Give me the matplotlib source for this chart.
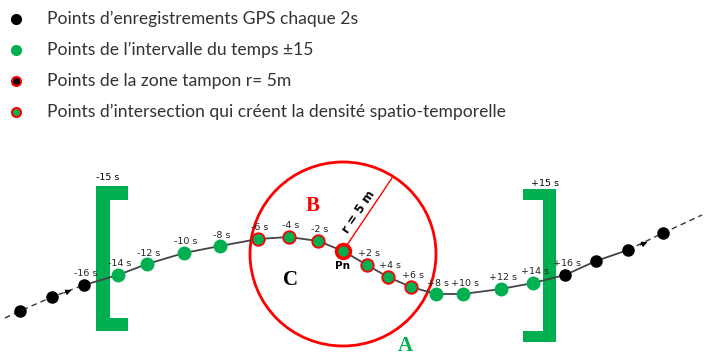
import matplotlib.pyplot as plt
from matplotlib.patches import Ellipse, Polygon

# track points (diagram coordinates, x to the right, y downwards)
pt_x = [20, 52, 84, 118, 147, 184, 220, 258, 289, 318, 343, 367, 388, 411, 436, 463, 501, 533, 565, 596, 628, 663]
pt_y = [311, 297, 285, 275, 264, 253, 246, 239, 237, 241, 251, 265, 277, 287, 294, 294, 289, 283, 275, 261, 250, 233]
pt_lab = ['', '', '-16 s', '-14 s', '-12 s', '-10 s', '-8 s', '-6 s', '-4 s', '-2 s', 'Pn',
          '+2 s', '+4 s', '+6 s', '+8 s', '+10 s', '+12 s', '+14 s', '+16 s', '', '', '']
# 0 = GPS point, 1 = time interval, 2 = intersection, 3 = Pn
pt_kind = [0, 0, 0, 1, 1, 1, 1, 2, 2, 2, 3, 2, 2, 2, 1, 1, 1, 1, 0, 0, 0, 0]

legend_txt = ["Points d\u2019enregistrements GPS chaque 2s",
              "Points de l\u2019intervalle du temps \u00b115",
              "Points de la zone tampon r= 5m",
              "Points d\u2019intersection qui cr\u00e9ent la densit\u00e9 spatio-temporelle"]

green = '#00b050'
red = '#ff0000'

fig = plt.figure(figsize=(7.04, 3.58), dpi=100)
ax = fig.add_axes([0, 0, 1, 1])
ax.set_xlim(0, 704)
ax.set_ylim(358, 0)
ax.axis('off')

# legend
leg_face = ['black', green, 'black', green]
leg_edge = ['black', green, red, red]
for i, t in enumerate(legend_txt):
    y = 19 + i * 31
    ax.plot(16, y, 'o', ms=6.5, mfc=leg_face[i], mec=leg_edge[i], mew=1.5)
    ax.text(47, y, t, fontsize=12.6, family='Lato', va='center', ha='left', color='#333333')

# track line
ax.plot([5] + pt_x[:3], [318] + pt_y[:3], color='#333333', lw=1, ls=(0, (4, 3)))
ax.plot(pt_x[2:21], pt_y[2:21], color='#444444', lw=1.3)
ax.plot(pt_x[20:] + [702], pt_y[20:] + [215], color='#333333', lw=1, ls=(0, (4, 3)))
ax.annotate('', xy=(74, 289), xytext=(62, 294),
            arrowprops=dict(arrowstyle='-|>', color='black', lw=0.8, mutation_scale=8))
ax.annotate('', xy=(650, 241), xytext=(638, 246),
            arrowprops=dict(arrowstyle='-|>', color='black', lw=0.8, mutation_scale=8))

# buffer circle and radius
ax.add_patch(Ellipse((343, 254), 186, 184, fill=False, ec=red, lw=2))
ax.plot([343, 392], [251, 178], color=red, lw=1)
ax.text(359, 212, 'r = 5 m', rotation=56, fontsize=8.5, fontweight='bold',
        ha='center', va='center', rotation_mode='anchor')

# brackets
ax.add_patch(Polygon([(96, 186), (128, 186), (128, 200), (110, 200), (110, 318),
                      (128, 318), (128, 331), (96, 331)], closed=True, fc=green, ec='none'))
ax.add_patch(Polygon([(556, 189), (523, 189), (523, 200), (543, 200), (543, 331),
                      (523, 331), (523, 342), (556, 342)], closed=True, fc=green, ec='none'))
ax.text(108, 177, '-15 s', fontsize=6.8, ha='center', va='center')
ax.text(545, 184, '+15 s', fontsize=6.8, ha='center', va='center')

# points
for x, y, lab, k in zip(pt_x, pt_y, pt_lab, pt_kind):
    if k == 0:
        ax.plot(x, y, 'o', ms=8, mfc='black', mec='black', zorder=5)
    elif k == 1:
        ax.plot(x, y, 'o', ms=9, mfc=green, mec=green, zorder=5)
    elif k == 2:
        ax.plot(x, y, 'o', ms=9, mfc=green, mec=red, mew=1.3, zorder=5)
    else:
        ax.plot(x, y, 'o', ms=10, mfc=green, mec=red, mew=2.5, zorder=5)
    if lab == 'Pn':
        ax.text(x, y + 15, lab, fontsize=7.5, fontweight='bold', ha='center', va='center')
    elif lab:
        ax.text(x + 2, y - 11, lab, fontsize=6.8, ha='center', va='center', color='#222222')

# zone letters
ax.text(313, 206, 'B', fontsize=15, fontweight='bold', family='Liberation Serif', color=red,
        ha='center', va='center')
ax.text(290, 280, 'C', fontsize=15, fontweight='bold', family='Liberation Serif',
        ha='center', va='center')
ax.text(405, 346, 'A', fontsize=15, fontweight='bold', family='Liberation Serif', color=green,
        ha='center', va='center')

plt.savefig('out.png', dpi=100)
